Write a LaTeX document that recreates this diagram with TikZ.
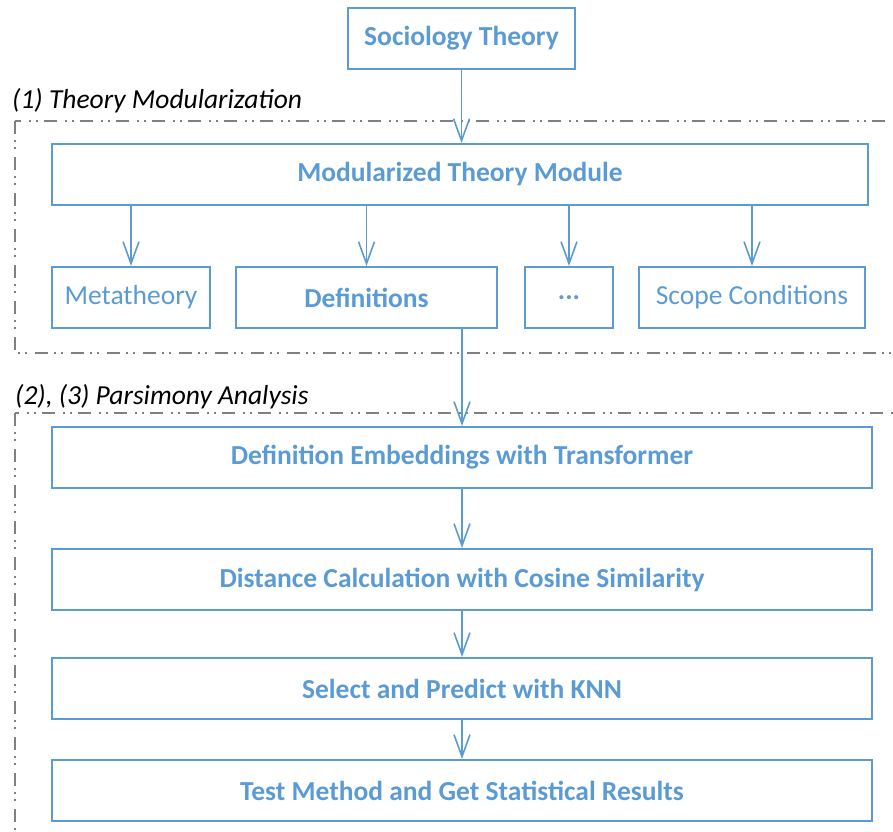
\documentclass[tikz,border=0pt]{standalone}
\usepackage{fontspec}
\setmainfont{Carlito}
\usetikzlibrary{arrows.meta}
\definecolor{boxblue}{HTML}{5B9BD5}
\definecolor{framegray}{HTML}{808080}
\tikzset{
  stagebox/.style={draw=boxblue, line width=2pt, text=boxblue, inner sep=0pt,
    minimum height=61pt, font=\fontsize{27.5}{32}\selectfont\bfseries},
  plainbox/.style={stagebox, font=\fontsize{27.5}{32}\selectfont},
  flow/.style={draw=boxblue, line width=1.6pt,
    -{Straight Barb[length=22pt,width=16pt,line width=1.6pt]}},
  phaseframe/.style={draw=framegray, line width=1.8pt,
    dash pattern=on 13pt off 6pt on 2pt off 5pt on 2pt off 8pt},
  phaselabel/.style={anchor=base west, inner sep=0pt,
    font=\fontsize{27.5}{32}\selectfont\itshape}
}
\begin{document}
\begin{tikzpicture}[x=1pt,y=-1pt]
\useasboundingbox (0,0) rectangle (893,831);
\clip (0,0) rectangle (893,831);

% phase frames (open to the right / bottom)
\draw[phaseframe] (15,121) rectangle (920,353);
\draw[phaseframe] (15,413) rectangle (920,860);
\node[phaselabel] (lab1) at (12,108) {(1) Theory Modularization};
\node[phaselabel] (lab2) at (15,404) {(2), (3) Parsimony Analysis};

% boxes
\node[stagebox, minimum width=227pt] (soc) at (461.5,38) {Sociology Theory};
\node[stagebox, minimum width=816pt] (mod) at (460,174.5) {Modularized Theory Module};
\node[plainbox, minimum width=158pt] (meta) at (131,297.5) {Metatheory};
\node[stagebox, minimum width=261pt] (defs) at (366.5,297.5) {Definitions};
\node[stagebox, minimum width=88pt] (dots) at (569,297.5) {...};
\node[plainbox, minimum width=226pt] (scope) at (752,297.5) {Scope Conditions};
\node[stagebox, minimum width=820pt] (emb) at (462,457.5) {Definition Embeddings with Transformer};
\node[stagebox, minimum width=820pt] (dist) at (462,579.5) {Distance Calculation with Cosine Similarity};
\node[stagebox, minimum width=820pt] (knn) at (462,688.5) {Select and Predict with KNN};
\node[stagebox, minimum width=820pt] (test) at (462,790.5) {Test Method and Get Statistical Results};

% connectors
\draw[flow] (soc.south) -- (soc.south |- mod.north);
\foreach \c in {meta,defs,dots,scope}
  \draw[flow] (mod.south -| \c.north) -- (\c.north);
\draw[flow] (defs.south -| emb.north) -- (emb.north);
\draw[flow] (emb.south) -- (dist.north);
\draw[flow] (dist.south) -- (knn.north);
\draw[flow] (knn.south) -- (test.north);
\end{tikzpicture}
\end{document}
